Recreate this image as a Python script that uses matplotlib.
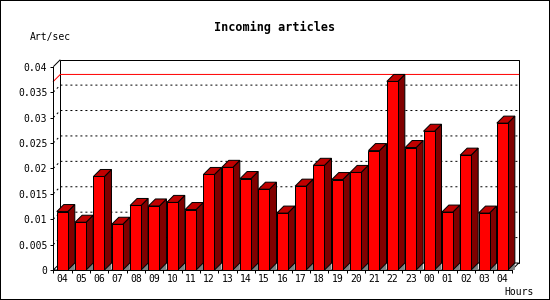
import numpy as np
import matplotlib
matplotlib.use("Agg")
import matplotlib.pyplot as plt
from matplotlib.patches import Rectangle, Polygon

# ---- data ----
hours = ['04', '05', '06', '07', '08', '09', '10', '11', '12', '13', '14', '15',
         '16', '17', '18', '19', '20', '21', '22', '23', '00', '01', '02', '03', '04']
values = [0.0115, 0.0094, 0.0184, 0.0090, 0.0127, 0.0126, 0.0133, 0.0119,
          0.0188, 0.0202, 0.0180, 0.0159, 0.0112, 0.0165, 0.0206, 0.0178,
          0.0192, 0.0235, 0.0371, 0.0241, 0.0273, 0.0114, 0.0226, 0.0112, 0.0289]
ytick_vals = [0, 0.005, 0.01, 0.015, 0.02, 0.025, 0.03, 0.035, 0.04]
ytick_labels = ['0', '0.005', '0.01', '0.015', '0.02', '0.025', '0.03', '0.035', '0.04']
title = 'Incoming articles'
ylabel = 'Art/sec'
xlabel = 'Hours'

FONT = 'DejaVu Sans Mono'
plt.rcParams['font.family'] = FONT

W, H, DPI = 550, 300, 100
fig = plt.figure(figsize=(W / DPI, H / DPI), dpi=DPI)
fig.patch.set_facecolor('white')

ax_left, ax_bottom, ax_w, ax_h = 53.3, 30.0, 458.4, 203.3
ax = fig.add_axes([ax_left / W, ax_bottom / H, ax_w / W, ax_h / H])
n = len(values)
ax.set_xlim(-0.5, n - 0.5)
ax.set_ylim(0, 0.04)
ax.patch.set_visible(False)

PX = 72.0 / DPI  # one pixel in points
DEPTH = 7.0
dxu = DEPTH * n / ax_w
dyu = DEPTH * 0.04 / ax_h
x0, x1 = -0.5, n - 0.5

# back plane
ax.add_patch(Rectangle((x0 + dxu, dyu), n, 0.04, fc='white', ec='black',
                       lw=PX, zorder=0.5, clip_on=False))
# left wall top edge
ax.plot([x0, x0 + dxu], [0.04, 0.04 + dyu], color='black', lw=PX,
        zorder=0.55, clip_on=False, solid_capstyle='butt')
# gridlines
for v in ytick_vals[1:-1]:
    ax.plot([x0, x0 + dxu, x1 + dxu], [v, v + dyu, v + dyu], color='black',
            lw=PX, linestyle=(0, (2, 3)), zorder=0.6, clip_on=False)
# max line
m = max(values)
ax.plot([x0, x0 + dxu, x1 + dxu], [m, m + dyu, m + dyu], color='#ff0000',
        lw=PX, zorder=0.7, clip_on=False)
# floor
ax.add_patch(Polygon([(x0, 0), (x1, 0), (x1 + dxu, dyu), (x0 + dxu, dyu)],
                     closed=True, fc='white', ec='black', lw=PX,
                     zorder=0.8, clip_on=False))

# bars
bw = 0.6
off = -0.31
xs = np.arange(n) + off
ax.bar(xs, values, width=bw, align='edge', color='#ff0000', edgecolor='black',
       linewidth=PX, zorder=3, clip_on=False)
for xl, v in zip(xs, values):
    xr = xl + bw
    ax.add_patch(Polygon([(xr, 0), (xr + dxu, dyu), (xr + dxu, 0)],
                         closed=True, fc='#808080', ec='none', lw=0,
                         zorder=2.8, clip_on=False))
    ax.add_patch(Polygon([(xr, 0), (xr + dxu, dyu), (xr + dxu, v + dyu), (xr, v)],
                         closed=True, fc='#800000', ec='black', lw=PX,
                         zorder=2.9, clip_on=False))
    ax.add_patch(Polygon([(xl, v), (xl + dxu, v + dyu), (xr + dxu, v + dyu), (xr, v)],
                         closed=True, fc='#c00000', ec='black', lw=PX,
                         zorder=2.9, clip_on=False))

# spines / ticks
for s in ['top', 'right']:
    ax.spines[s].set_visible(False)
for s in ['left', 'bottom']:
    ax.spines[s].set_linewidth(PX)
    ax.spines[s].set_zorder(4)
ax.set_yticks(ytick_vals)
ax.set_yticklabels(ytick_labels)
ax.tick_params(axis='y', direction='out', length=3 * PX, width=PX, pad=3 * PX,
               labelsize=7, colors='black')
ax.set_xticks(np.arange(-0.5, n, 1.0))
ax.set_xticklabels([])
ax.set_xticks(np.arange(n), minor=True)
ax.set_xticklabels(hours, minor=True)
ax.tick_params(axis='x', which='major', direction='out', length=3 * PX, width=PX)
ax.tick_params(axis='x', which='minor', length=0, pad=4 * PX, labelsize=7)

# texts
fig.text(274.5 / W, 1 - 27.7 / H, title, ha='center', va='center',
         fontsize=8.5, fontweight='bold')
fig.text(30 / W, 1 - 37 / H, ylabel, ha='left', va='center', fontsize=7)
fig.text(534 / W, 1 - 291.7 / H, xlabel, ha='right', va='center', fontsize=7)

# outer border
fig.add_artist(Rectangle((0, 0), 1, 1, transform=fig.transFigure, fill=False,
                         ec='black', lw=2 * PX))

fig.savefig('out.png', dpi=DPI, facecolor='white')
